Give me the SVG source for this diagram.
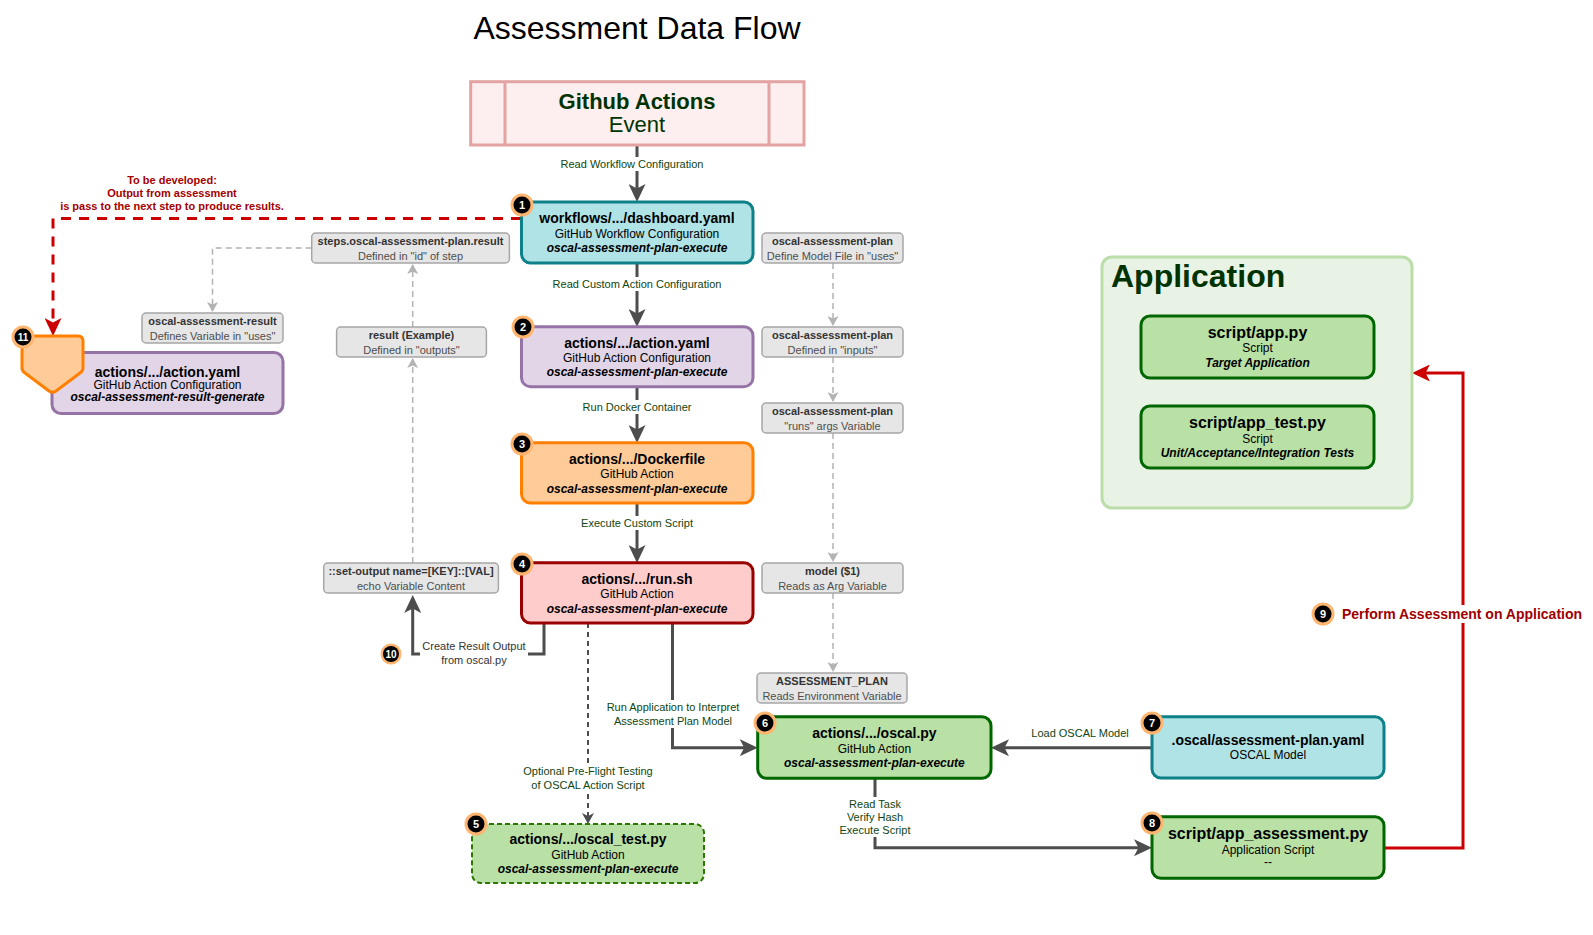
<svg xmlns="http://www.w3.org/2000/svg" width="1593" height="935" viewBox="0 0 1593 935">
<defs>
<style>
text{font-family:"Liberation Sans",Arial,Helvetica,sans-serif}
.t{font-size:14px;font-weight:bold;fill:#000;text-anchor:middle}
.t16{font-size:16px;font-weight:bold;fill:#000;text-anchor:middle}
.s{font-size:12px;fill:#000;text-anchor:middle}
.i{font-size:12px;font-weight:bold;font-style:italic;fill:#000;text-anchor:middle}
.gb{fill:#E6E6E6;stroke:#A6A6A6;stroke-width:1.5}
.gt1{font-size:11px;font-weight:bold;fill:#333;text-anchor:middle}
.gt2{font-size:11px;fill:#4D4D4D;text-anchor:middle}
.lbl{font-size:11px;fill:#0F450F;text-anchor:middle}
.lblg{font-size:11px;fill:#333;text-anchor:middle}
.bg{fill:#fff}
.c{fill:none;stroke:#4D4D4D;stroke-width:3}
.cd{fill:none;stroke:#4D4D4D;stroke-width:2;stroke-dasharray:5 4}
.d{fill:none;stroke:#B3B3B3;stroke-width:1.5;stroke-dasharray:6 4}
.r{fill:none;stroke:#CC0000;stroke-width:3}
.rd{fill:none;stroke:#CC0000;stroke-width:3;stroke-dasharray:10 8}
.teal{fill:#B0E3E6;stroke:#0E8088;stroke-width:3}
.purple{fill:#E1D5E7;stroke:#9673A6;stroke-width:3}
.orange{fill:#FFCC99;stroke:#FF8000;stroke-width:3}
.pink{fill:#FFCCCC;stroke:#990000;stroke-width:3}
.green{fill:#B9E0A5;stroke:#006600;stroke-width:3}
.greend{fill:#B9E0A5;stroke:#2D7600;stroke-width:2;stroke-dasharray:5 3}
.bo{fill:#FFB570}
.bi{fill:#000}
.bn{font-size:11px;font-weight:bold;fill:#fff;text-anchor:middle}
</style>
<marker id="aDark" viewBox="0 0 18 17" refX="14" refY="8.5" markerWidth="18" markerHeight="17" markerUnits="userSpaceOnUse" orient="auto">
<path d="M0,0 L18,8.5 L0,17 L4.5,8.5 Z" fill="#4D4D4D"/>
</marker>
<marker id="aDarkS" viewBox="0 0 11 12" refX="9" refY="6" markerWidth="11" markerHeight="12" markerUnits="userSpaceOnUse" orient="auto">
<path d="M0,0 L11,6 L0,12 L3,6 Z" fill="#4D4D4D"/>
</marker>
<marker id="aGray" viewBox="0 0 10 11" refX="9" refY="5.5" markerWidth="10" markerHeight="11" markerUnits="userSpaceOnUse" orient="auto">
<path d="M0,0 L10,5.5 L0,11 L2.5,5.5 Z" fill="#B3B3B3"/>
</marker>
<marker id="aRed" viewBox="0 0 18 17" refX="14" refY="8.5" markerWidth="18" markerHeight="17" markerUnits="userSpaceOnUse" orient="auto">
<path d="M0,0 L18,8.5 L0,17 L4.5,8.5 Z" fill="#CC0000"/>
</marker>
</defs>
<rect width="1593" height="935" fill="#fff"/>
<text x="637" y="39" style="font-size:32px;fill:#000;text-anchor:middle">Assessment Data Flow</text>

<g id="connectors">
<path class="c" d="M637,145 V198" marker-end="url(#aDark)"/>
<path class="c" d="M637,263 V323" marker-end="url(#aDark)"/>
<path class="c" d="M637,387 V439" marker-end="url(#aDark)"/>
<path class="c" d="M637,503 V559" marker-end="url(#aDark)"/>
<path class="c" d="M544,623 V654 H412.7 V599" marker-end="url(#aDark)"/>
<path class="cd" d="M588,623 V822" marker-end="url(#aDarkS)"/>
<path class="c" d="M672.5,623 V747.7 H753.7" marker-end="url(#aDark)"/>
<path class="c" d="M1152,747.7 H995" marker-end="url(#aDark)"/>
<path class="c" d="M875,778 V847.7 H1148" marker-end="url(#aDark)"/>
<path class="r" d="M1384,848 H1463 V373 H1416" marker-end="url(#aRed)"/>
<path class="rd" d="M521,218.5 H53 V332" marker-end="url(#aRed)"/>
<path class="d" d="M412.7,563 V359" marker-end="url(#aGray)"/>
<path class="d" d="M412.7,327 V265" marker-end="url(#aGray)"/>
<path class="d" d="M311.7,248 H212.5 V311" marker-end="url(#aGray)"/>
<path class="d" d="M833,263 V325" marker-end="url(#aGray)"/>
<path class="d" d="M833,357 V401" marker-end="url(#aGray)"/>
<path class="d" d="M833,433 V561" marker-end="url(#aGray)"/>
<path class="d" d="M833,593 V671" marker-end="url(#aGray)"/>

<rect class="bg" x="560" y="157" width="144" height="14"/>
<text class="lbl" x="632" y="168">Read Workflow Configuration</text>
<rect class="bg" x="551" y="277" width="172" height="14"/>
<text class="lbl" x="637" y="288">Read Custom Action Configuration</text>
<rect class="bg" x="582" y="400" width="110" height="14"/>
<text class="lbl" x="637" y="411">Run Docker Container</text>
<rect class="bg" x="580" y="516" width="114" height="14"/>
<text class="lbl" x="637" y="527">Execute Custom Script</text>
<rect class="bg" x="420" y="639" width="108" height="27"/>
<text class="lblg" x="474" y="650">Create Result Output</text>
<text class="lblg" x="474" y="663.5">from oscal.py</text>
<rect class="bg" x="604" y="700" width="138" height="28"/>
<text class="lbl" x="673" y="711">Run Application to Interpret</text>
<text class="lbl" x="673" y="725">Assessment Plan Model</text>
<rect class="bg" x="521" y="764" width="134" height="28"/>
<text class="lbl" x="588" y="775">Optional Pre-Flight Testing</text>
<text class="lbl" x="588" y="789">of OSCAL Action Script</text>
<text class="lbl" x="1080" y="737">Load OSCAL Model</text>
<rect class="bg" x="834" y="797" width="82" height="40"/>
<text class="lbl" x="875" y="808">Read Task</text>
<text class="lbl" x="875" y="821">Verify Hash</text>
<text class="lbl" x="875" y="834">Execute Script</text>
<text x="172" y="184" style="font-size:11px;font-weight:bold;fill:#A50000;text-anchor:middle">To be developed:</text>
<text x="172" y="197" style="font-size:11px;font-weight:bold;fill:#A50000;text-anchor:middle">Output from assessment</text>
<text x="172" y="210" style="font-size:11px;font-weight:bold;fill:#A50000;text-anchor:middle">is pass to the next step to produce results.</text>
<rect class="bg" x="1340" y="605" width="244" height="18"/>
<text x="1462" y="619" style="font-size:14px;font-weight:bold;fill:#A00000;text-anchor:middle">Perform Assessment on Application</text>
<g><circle class="bo" cx="1323" cy="614" r="11.5"/><circle class="bi" cx="1323" cy="614" r="8.5"/><text class="bn" x="1323" y="618">9</text></g>
<g><circle class="bo" cx="391" cy="654" r="10.5"/><circle class="bi" cx="391" cy="654" r="8"/><text class="bn" x="391" y="658" style="font-size:10px">10</text></g>
</g>

<g id="event">
<rect x="470.7" y="81.7" width="333.3" height="63.3" fill="#FDEFEF" stroke="#E3A3A3" stroke-width="3"/>
<line x1="505" y1="81.7" x2="505" y2="145" stroke="#E3A3A3" stroke-width="3"/>
<line x1="769" y1="81.7" x2="769" y2="145" stroke="#E3A3A3" stroke-width="3"/>
<text x="637" y="109" style="font-size:22px;font-weight:bold;fill:#003300;text-anchor:middle">Github Actions</text>
<text x="637" y="132" style="font-size:22px;fill:#003300;text-anchor:middle">Event</text>
</g>

<g id="node1">
<rect class="teal" x="521.5" y="202" width="231.5" height="61" rx="9"/>
<text class="t" x="637" y="223">workflows/.../dashboard.yaml</text>
<text class="s" x="637" y="238">GitHub Workflow Configuration</text>
<text class="i" x="637" y="252">oscal-assessment-plan-execute</text>
<circle class="bo" cx="522" cy="205" r="11.5"/><circle class="bi" cx="522" cy="205" r="8.5"/><text class="bn" x="522" y="209">1</text>
</g>

<g id="node2">
<rect class="purple" x="521.5" y="326.7" width="231.5" height="60" rx="9"/>
<text class="t" x="637" y="347.5">actions/.../action.yaml</text>
<text class="s" x="637" y="362">GitHub Action Configuration</text>
<text class="i" x="637" y="376">oscal-assessment-plan-execute</text>
<circle class="bo" cx="523" cy="327" r="11.5"/><circle class="bi" cx="523" cy="327" r="8.5"/><text class="bn" x="523" y="331">2</text>
</g>

<g id="node3">
<rect class="orange" x="521.5" y="442.7" width="231.5" height="60.3" rx="9"/>
<text class="t" x="637" y="463.5">actions/.../Dockerfile</text>
<text class="s" x="637" y="478">GitHub Action</text>
<text class="i" x="637" y="492.5">oscal-assessment-plan-execute</text>
<circle class="bo" cx="522" cy="444" r="11.5"/><circle class="bi" cx="522" cy="444" r="8.5"/><text class="bn" x="522" y="448">3</text>
</g>

<g id="node4">
<rect class="pink" x="521.5" y="562.7" width="231.5" height="60.3" rx="9"/>
<text class="t" x="637" y="583.5">actions/.../run.sh</text>
<text class="s" x="637" y="598">GitHub Action</text>
<text class="i" x="637" y="612.5">oscal-assessment-plan-execute</text>
<circle class="bo" cx="522" cy="564" r="11.5"/><circle class="bi" cx="522" cy="564" r="8.5"/><text class="bn" x="522" y="568">4</text>
</g>

<g id="node5">
<rect class="greend" x="472" y="824" width="232" height="59" rx="9"/>
<text class="t" x="588" y="844">actions/.../oscal_test.py</text>
<text class="s" x="588" y="858.5">GitHub Action</text>
<text class="i" x="588" y="873">oscal-assessment-plan-execute</text>
<circle class="bo" cx="476" cy="824" r="11.5"/><circle class="bi" cx="476" cy="824" r="8.5"/><text class="bn" x="476" y="828">5</text>
</g>

<g id="node6">
<rect class="green" x="757.7" y="716.7" width="233.3" height="61.6" rx="9"/>
<text class="t" x="874.4" y="738">actions/.../oscal.py</text>
<text class="s" x="874.4" y="752.7">GitHub Action</text>
<text class="i" x="874.4" y="766.5">oscal-assessment-plan-execute</text>
<circle class="bo" cx="765" cy="723" r="11.5"/><circle class="bi" cx="765" cy="723" r="8.5"/><text class="bn" x="765" y="727">6</text>
</g>

<g id="node7">
<rect class="teal" x="1152" y="716.7" width="232" height="61.3" rx="9"/>
<text class="t" x="1268" y="745">.oscal/assessment-plan.yaml</text>
<text class="s" x="1268" y="759">OSCAL Model</text>
<circle class="bo" cx="1152" cy="723" r="11.5"/><circle class="bi" cx="1152" cy="723" r="8.5"/><text class="bn" x="1152" y="727">7</text>
</g>

<g id="node8">
<rect class="green" x="1152" y="816.7" width="232" height="61.6" rx="9"/>
<text class="t16" x="1268" y="838.5">script/app_assessment.py</text>
<text class="s" x="1268" y="854">Application Script</text>
<text class="s" x="1268" y="866">--</text>
<circle class="bo" cx="1152" cy="823" r="11.5"/><circle class="bi" cx="1152" cy="823" r="8.5"/><text class="bn" x="1152" y="827">8</text>
</g>

<g id="application">
<rect x="1102" y="257" width="310" height="251" rx="10" fill="#E8F2E5" stroke="#BBDDAA" stroke-width="3"/>
<text x="1111" y="287" style="font-size:32px;font-weight:bold;fill:#003300">Application</text>
</g>

<g id="app-py">
<rect class="green" x="1141" y="316" width="233" height="62" rx="9"/>
<text class="t16" x="1257.5" y="337.5">script/app.py</text>
<text class="s" x="1257.5" y="352">Script</text>
<text class="i" x="1257.5" y="366.5">Target Application</text>
</g>

<g id="app-test-py">
<rect class="green" x="1141" y="406" width="233" height="62" rx="9"/>
<text class="t16" x="1257.5" y="427.5">script/app_test.py</text>
<text class="s" x="1257.5" y="443">Script</text>
<text class="i" x="1257.5" y="457">Unit/Acceptance/Integration Tests</text>
</g>

<g id="node11">
<rect class="purple" x="52" y="352.5" width="231" height="61" rx="9"/>
<text class="t" x="167.5" y="376.5">actions/.../action.yaml</text>
<text class="s" x="167.5" y="388.5">GitHub Action Configuration</text>
<text class="i" x="167.5" y="400.5">oscal-assessment-result-generate</text>
</g>

<g id="node11-connector">
<path class="orange" d="M27,336 H78 Q83,336 83,341 V368 Q83,371 80,373 L56,391 Q52.5,393.5 49,391 L25,373 Q22,371 22,368 V341 Q22,336 27,336 Z"/>
<circle class="bo" cx="23" cy="337" r="11.5"/><circle class="bi" cx="23" cy="337" r="8.5"/><text class="bn" x="23" y="341" style="font-size:10px">11</text>
</g>

<g id="g-steps"><rect class="gb" x="311.7" y="233" width="197.7" height="30" rx="4"/>
<text class="gt1" x="410.5" y="245">steps.oscal-assessment-plan.result</text>
<text class="gt2" x="410.5" y="260">Defined in "id" of step</text></g>

<g id="g-result-var"><rect class="gb" x="142" y="313" width="141" height="30" rx="4"/>
<text class="gt1" x="212.5" y="325">oscal-assessment-result</text>
<text class="gt2" x="212.5" y="340">Defines Variable in "uses"</text></g>

<g id="g-result"><rect class="gb" x="336.6" y="327" width="149.8" height="30" rx="4"/>
<text class="gt1" x="411.5" y="339">result (Example)</text>
<text class="gt2" x="411.5" y="354">Defined in "outputs"</text></g>

<g id="g-setoutput"><rect class="gb" x="323.7" y="563" width="174.7" height="30" rx="4"/>
<text class="gt1" x="411" y="575">::set-output name=[KEY]::[VAL]</text>
<text class="gt2" x="411" y="590">echo Variable Content</text></g>

<g id="g-plan-uses"><rect class="gb" x="762" y="233" width="141" height="30" rx="4"/>
<text class="gt1" x="832.5" y="245">oscal-assessment-plan</text>
<text class="gt2" x="832.5" y="260">Define Model File in "uses"</text></g>

<g id="g-plan-inputs"><rect class="gb" x="762" y="327" width="141" height="30" rx="4"/>
<text class="gt1" x="832.5" y="339">oscal-assessment-plan</text>
<text class="gt2" x="832.5" y="354">Defined in "inputs"</text></g>

<g id="g-plan-runs"><rect class="gb" x="762" y="403" width="141" height="30" rx="4"/>
<text class="gt1" x="832.5" y="415">oscal-assessment-plan</text>
<text class="gt2" x="832.5" y="430">"runs" args Variable</text></g>

<g id="g-model"><rect class="gb" x="762" y="563" width="141" height="30" rx="4"/>
<text class="gt1" x="832.5" y="575">model ($1)</text>
<text class="gt2" x="832.5" y="590">Reads as Arg Variable</text></g>

<g id="g-env"><rect class="gb" x="757" y="673" width="150" height="30" rx="4"/>
<text class="gt1" x="832" y="685">ASSESSMENT_PLAN</text>
<text class="gt2" x="832" y="700">Reads Environment Variable</text></g>
</svg>
